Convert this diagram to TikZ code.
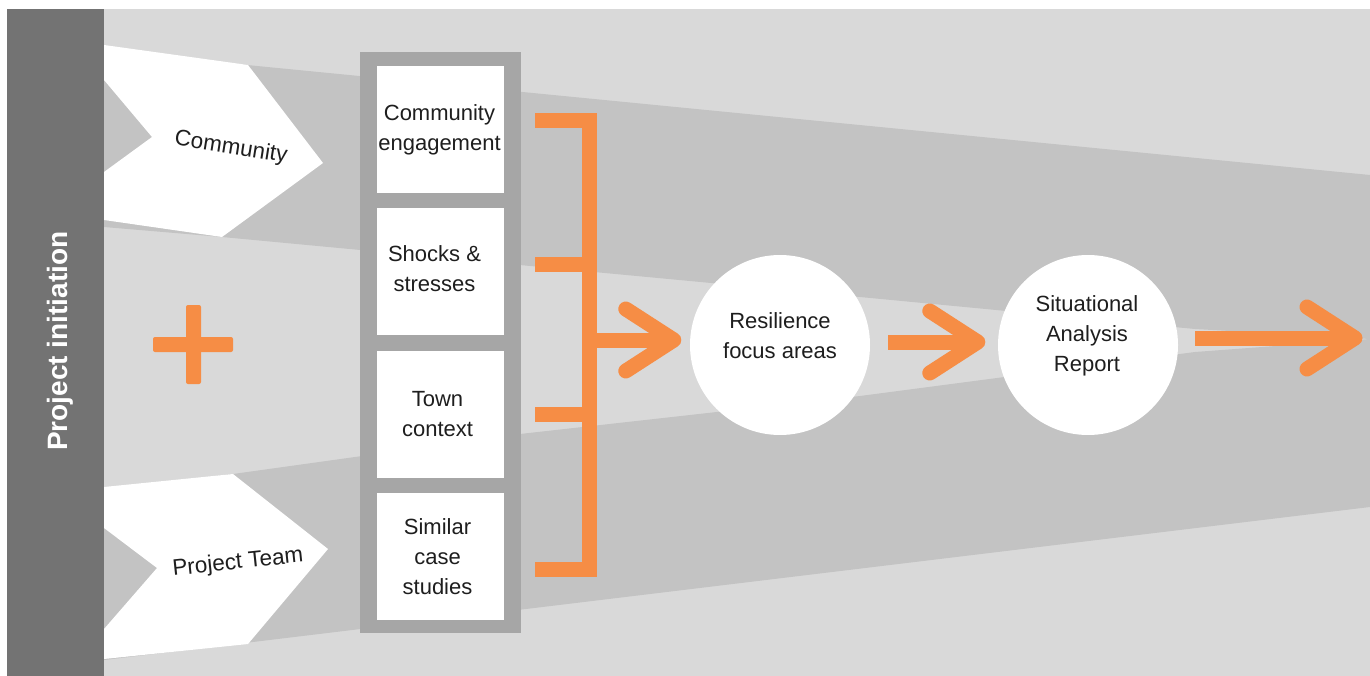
\documentclass[tikz,border=0pt]{standalone}
\usepackage{fontspec}
\setmainfont{Liberation Sans}
\usetikzlibrary{calc}
\definecolor{bglight}{HTML}{D9D9D9}
\definecolor{bandgray}{HTML}{C3C3C3}
\definecolor{bargray}{HTML}{737373}
\definecolor{framegray}{HTML}{A6A6A6}
\definecolor{orng}{HTML}{F68D45}
\definecolor{txt}{HTML}{1E1E1E}
\begin{document}
\begin{tikzpicture}[x=1pt,y=-1pt,
  lbl/.style={font=\fontsize{22}{30}\selectfont, text=txt, align=center, inner sep=0pt},
  stepbox/.style={fill=white, minimum width=127pt, minimum height=127pt, inner sep=0pt},
  bigcirc/.style={circle, fill=white, minimum size=180pt, inner sep=0pt},
  orangeline/.style={draw=orng, line width=15pt},
  headline/.style={draw=orng, line width=15pt, line cap=round, line join=round}]
\useasboundingbox (0,0) rectangle (1370,676);
% background
\fill[white] (0,0) rectangle (1370,676);
\fill[bglight] (104,9) rectangle (1370,676);
% bands
\fill[bandgray] (104,51) -- (1370,175) -- (1370,339) -- (1195,329) -- (860,297) -- (222,237) -- (104,227) -- cycle;
\fill[bandgray] (104,490) -- (233,474) -- (520,434) -- (860,396) -- (1195,352) -- (1370,339) -- (1370,507) -- (104,660) -- cycle;
% left bar
\fill[bargray] (7,9) rectangle (104,676);
\node[font=\bfseries\fontsize{28}{32}\selectfont, text=white, rotate=90] (init) at (60,341) {Project initiation};
% chevrons
\fill[white] (104,45) -- (248,65) -- (323,163) -- (222,237) -- (104,220) -- (104,172) -- (152,137) -- (104,80) -- cycle;
\fill[white] (104,487) -- (233,474) -- (328,549) -- (248,644) -- (104,659) -- (104,629) -- (157,568) -- (104,528) -- cycle;
\node[lbl, font=\fontsize{22.5}{30}\selectfont, rotate=-9] (community) at (231,148) {Community};
\node[lbl, font=\fontsize{22.5}{30}\selectfont, rotate=6] (team) at (238,563) {Project Team};
% plus
\fill[orng, rounded corners=2pt] (153,337) rectangle (233,352);
\fill[orng, rounded corners=2pt] (186,305) rectangle (201,384);
% frame and boxes
\node[fill=framegray, minimum width=161pt, minimum height=581pt, inner sep=0pt] (frame) at (440.5,342.5) {};
\node[stepbox] (b1) at (440.5,129.5) {};
\node[stepbox] (b2) at (440.5,271.5) {};
\node[stepbox] (b3) at (440.5,414.5) {};
\node[stepbox] (b4) at (440.5,556.5) {};
\node[lbl] (t1) at ($(b1.center)+(-1,0)$) {Community\\engagement};
\node[lbl] (t2) at ($(b2.center)+(-6,-3)$) {Shocks \&\\stresses};
\node[lbl] (t3) at ($(b3.center)+(-3,0)$) {Town\\context};
\node[lbl] (t4) at ($(b4.center)+(-3,0)$) {Similar\\case\\studies};
% circles
\node[bigcirc] (res) at (780,345) {};
\node[bigcirc] (sit) at (1088,345) {};
\node[lbl] (restext) at ($(res.center)+(0,-9)$) {Resilience\\focus areas};
\node[lbl] (sittext) at ($(sit.center)+(-1,-9)$) {Situational\\Analysis\\Report};
% bracket
\coordinate (k1) at ($(b1.east)+(31,-9)$);
\coordinate (k2) at ($(b2.east)+(31,-6.5)$);
\coordinate (k3) at ($(b3.east)+(31,0)$);
\coordinate (k4) at ($(b4.east)+(31,13)$);
\coordinate (vx) at (589.5,0);
\draw[orangeline] (k1) -- (k1 -| vx) -- (k4 -| vx) -- (k4);
\draw[orangeline] (k2) -- (k2 -| vx);
\draw[orangeline] (k3) -- (k3 -| vx);
% arrows
\coordinate (j) at (589.5,340);
\coordinate (a1) at ($(res.west)+(-16,-5)$);
\coordinate (s2) at ($(res.east)+(18,-3)$);
\coordinate (a2) at ($(sit.west)+(-20,-3)$);
\coordinate (s3) at ($(sit.east)+(17,-7)$);
\coordinate (a3) at (1355,338);
\draw[orangeline] (j) -- ($(a1)+(-4,0)$);
\draw[headline] ($(a1)+(-48,-31)$) -- (a1) -- ($(a1)+(-48,31)$);
\draw[orangeline] (s2) -- ($(a2)+(-4,0)$);
\draw[headline] ($(a2)+(-48,-31)$) -- (a2) -- ($(a2)+(-48,31)$);
\draw[orangeline] (s3) -- ($(a3)+(-4,0)$);
\draw[headline] ($(a3)+(-48,-31)$) -- (a3) -- ($(a3)+(-48,31)$);
\end{tikzpicture}
\end{document}
